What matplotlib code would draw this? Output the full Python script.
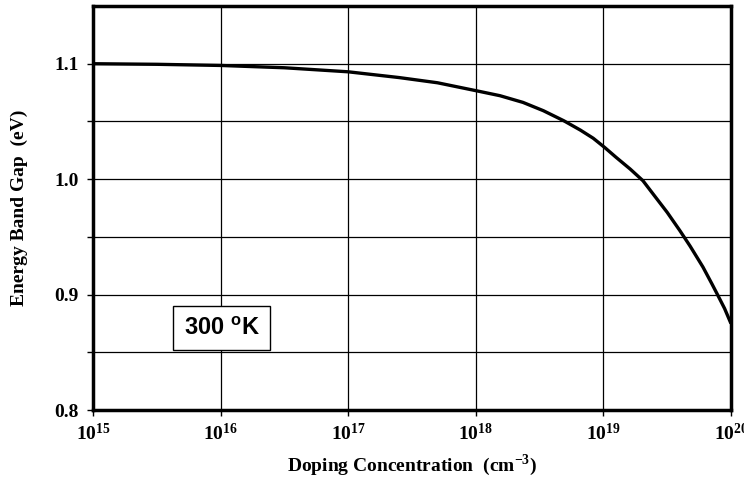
import numpy as np
import matplotlib
matplotlib.use("Agg")
import matplotlib.pyplot as plt
from matplotlib.ticker import FixedLocator, NullLocator

# valores (log10 da dopagem, gap em eV)
log_dopagem = [15.0, 15.5, 16.0, 16.5, 17.0, 17.4, 17.7, 18.03, 18.19, 18.37,
               18.53, 18.69, 18.82, 18.92, 19.01, 19.10, 19.21, 19.31, 19.40,
               19.50, 19.60, 19.68, 19.78, 19.85, 19.89, 19.95, 20.0]
gap_ev = [1.100, 1.0995, 1.0985, 1.0965, 1.093, 1.088, 1.0835, 1.076, 1.0723,
          1.0665, 1.0593, 1.0506, 1.0425, 1.0355, 1.0275, 1.0189, 1.0088,
          0.9987, 0.9857, 0.9713, 0.9554, 0.942, 0.924, 0.9095, 0.901,
          0.888, 0.875]

ticks_x = [1e15, 1e16, 1e17, 1e18, 1e19, 1e20]
rotulos_x = [r'$\mathbf{10^{%d}}$' % e for e in range(15, 21)]
ticks_y = [0.8, 0.9, 1.0, 1.1]
rotulos_y = ['0.8', '0.9', '1.0', '1.1']
grade_y = [0.85, 0.9, 0.95, 1.0, 1.05, 1.1]

plt.rcParams['mathtext.fontset'] = 'custom'
plt.rcParams['mathtext.rm'] = 'Liberation Serif:bold'
plt.rcParams['mathtext.bf'] = 'Liberation Serif:bold'
plt.rcParams['mathtext.sf'] = 'Liberation Sans:bold'

fig = plt.figure(figsize=(7.44, 4.82), dpi=100)
ax = fig.add_axes([0.125, 0.149, 0.8575, 0.8386])

x = 10 ** np.array(log_dopagem)
ax.plot(x, gap_ev, color='black', lw=2.4, zorder=3, solid_capstyle='butt')

ax.set_xscale('log')
ax.set_xlim(1e15, 1e20)
ax.set_ylim(0.8, 1.15)

ax.xaxis.set_major_locator(FixedLocator(ticks_x))
ax.xaxis.set_minor_locator(NullLocator())
ax.set_xticklabels(rotulos_x)
ax.set_yticks(ticks_y)
ax.set_yticklabels(rotulos_y)
ax.yaxis.set_minor_locator(FixedLocator([0.85, 0.95, 1.05]))

for yv in grade_y:
    ax.axhline(yv, color='black', lw=0.9, zorder=1)
for xv in ticks_x[1:-1]:
    ax.axvline(xv, color='black', lw=0.9, zorder=1)

fonte_tick = {'family': 'Liberation Serif', 'weight': 'bold', 'size': 14}
for lab in ax.get_yticklabels():
    lab.set_fontproperties(fonte_tick)
ax.tick_params(axis='x', labelsize=14, pad=5)
ax.tick_params(which='both', direction='out', length=4, width=1, color='black')
ax.tick_params(axis='y', pad=6)

for s in ax.spines.values():
    s.set_linewidth(2.5)

ax.set_xlabel(r'Doping Concentration  (cm$^{\mathbf{-3}}$)', fontfamily='Liberation Serif',
              fontweight='bold', fontsize=14, labelpad=6)
ax.set_ylabel('Energy Band Gap  (eV)', fontfamily='Liberation Serif',
              fontweight='bold', fontsize=14, labelpad=19)

ax.text(0.202, 0.203, r'300 $^{\mathsf{o}}$K', transform=ax.transAxes,
        ha='center', va='center', fontfamily='Liberation Sans', fontweight='bold',
        fontsize=17, zorder=4,
        bbox=dict(boxstyle='square,pad=0.45', facecolor='white', edgecolor='black', lw=1))

fig.savefig('out.png', dpi=100)
